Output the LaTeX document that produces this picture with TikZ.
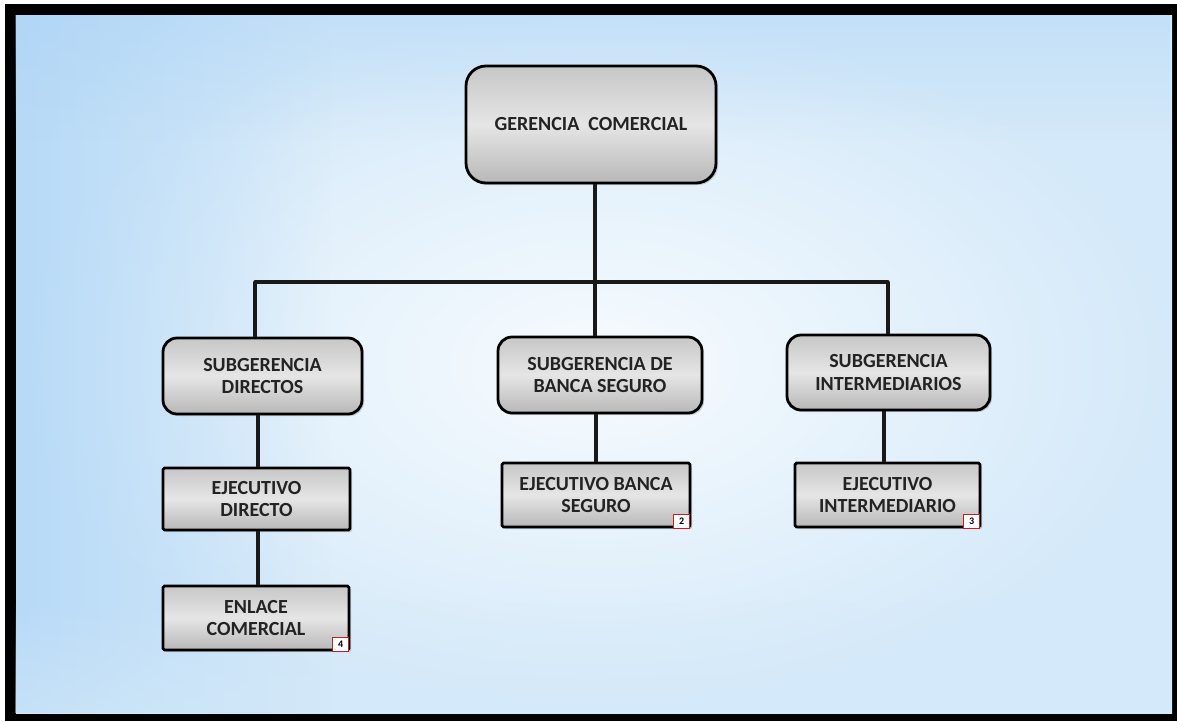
\documentclass[tikz,border=0pt]{standalone}
\usepackage{fontspec}
\setmainfont{Carlito}
\usetikzlibrary{shadows,fadings}
\definecolor{skyedge}{RGB}{212,233,249}
\definecolor{skydeep}{RGB}{165,208,246}
\definecolor{skymid}{RGB}{247,251,254}
\definecolor{txt}{RGB}{35,35,35}
\definecolor{numred}{RGB}{200,30,30}
\tikzset{
  box/.style={draw=black, line width=2.8pt, top color=black!22, bottom color=black!28,
    middle color=black!10, text=txt, align=center,
    font=\bfseries\fontsize{20}{22.5}\selectfont, inner sep=0pt,
    drop shadow={shadow xshift=2pt, shadow yshift=-2pt, opacity=0.35}},
  roundbox/.style={box, rounded corners=14pt},
  squarebox/.style={box, rounded corners=1.5pt},
  conn/.style={line width=3.4pt, draw=black!90},
  numbox/.style={draw=numred, line width=1.5pt, fill=white, minimum width=16pt,
    minimum height=14pt, inner sep=0pt, font=\bfseries\fontsize{10}{10}\selectfont}
}
\begin{document}
\begin{tikzpicture}[x=1pt,y=-1pt]
\useasboundingbox (0,0) rectangle (1177,721);
% page frame and sky background
\fill[white] (0,0) rectangle (1177,721);
\fill[black] (5,4) rectangle (1177,721);
\shade[inner color=skymid, outer color=skyedge] (16,15) rectangle (1172,713);
\fill[skydeep, opacity=0.6, path fading=east] (16,15) rectangle (330,713);
\fill[skydeep, opacity=0.35, path fading=south] (16,15) rectangle (1172,140);
\fill[skyedge, opacity=0.5, path fading=north] (16,600) rectangle (1172,713);

% top level
\node[roundbox, rounded corners=20pt, minimum width=250pt, minimum height=117pt] (g) at (591,124.5) {GERENCIA\ \ COMERCIAL};

% second level
\node[roundbox, minimum width=199pt, minimum height=76pt] (s1) at (262.5,376) {SUBGERENCIA\\DIRECTOS};
\node[roundbox, minimum width=204pt, minimum height=76pt] (s2) at (600,375) {SUBGERENCIA DE\\BANCA SEGURO};
\node[roundbox, minimum width=203pt, minimum height=75pt] (s3) at (888.5,372.5) {SUBGERENCIA\\INTERMEDIARIOS};

% third level
\node[squarebox, minimum width=187pt, minimum height=62pt] (e1) at (256.5,499) {EJECUTIVO\\DIRECTO};
\node[squarebox, minimum width=188pt, minimum height=64pt] (e2) at (596,495) {EJECUTIVO BANCA\\SEGURO};
\node[squarebox, minimum width=185pt, minimum height=64pt] (e3) at (887.5,495) {EJECUTIVO\\INTERMEDIARIO};
\node[squarebox, minimum width=186pt, minimum height=64pt] (e4) at (256,618) {ENLACE\\COMERCIAL};

% small numbered tags
\node[numbox, anchor=south east] (n4) at ([xshift=-1pt,yshift=-1pt]e4.south east) {4};
\node[numbox, anchor=south east] (n2) at ([xshift=-1pt,yshift=-1pt]e2.south east) {2};
\node[numbox, anchor=south east] (n3) at ([xshift=-1pt,yshift=-1pt]e3.south east) {3};

% connectors
\coordinate (busC) at (595,282);
\coordinate (busL) at (255,282);
\coordinate (busR) at (888,282);
\draw[conn] (g.south -| busC) -- (busC);
\draw[conn, line cap=round] (busL) -- (busR);
\draw[conn] (busL) -- (busL |- s1.north);
\draw[conn] (busC) -- (busC |- s2.north);
\draw[conn] (busR) -- (busR |- s3.north);
\draw[conn] (s1.south -| 258,0) -- (e1.north -| 258,0);
\draw[conn] (e1.south -| 258,0) -- (e4.north -| 258,0);
\draw[conn] (s2.south -| 596,0) -- (e2.north -| 596,0);
\draw[conn] (s3.south -| 884,0) -- (e3.north -| 884,0);
\end{tikzpicture}
\end{document}
